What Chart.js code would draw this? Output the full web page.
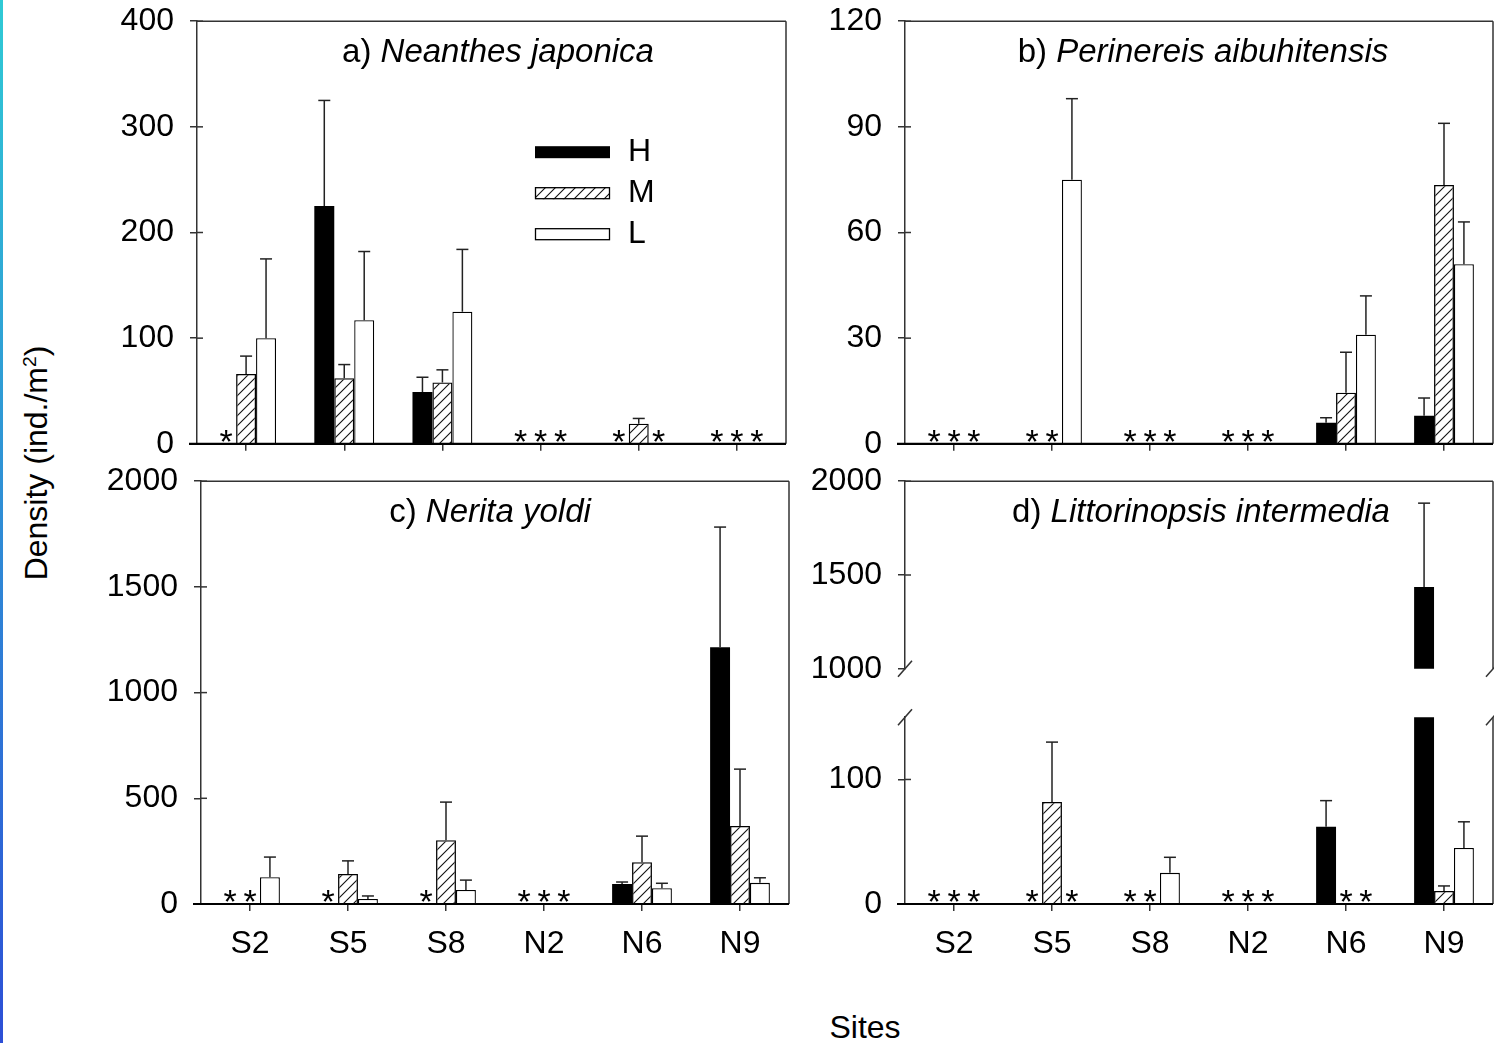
<!DOCTYPE html>
<html>
<head>
<meta charset="utf-8">
<title>Density by site</title>
<script src="https://cdn.jsdelivr.net/npm/chart.js@4.4.1/dist/chart.umd.min.js"></script>
<style>
  body { margin: 0; background: #fff; font-family: "Liberation Sans", Arial, sans-serif; }
  #page { position: relative; width: 1494px; height: 1043px; overflow: hidden; background: #fff; }
  canvas { position: absolute; }
  .txt { position: absolute; white-space: nowrap; line-height: 1; color: #000; transform: translate(-50%, -50%); }
  .ttl { font-size: 33px; }
  .sup { font-size: 0.6em; position: relative; top: -0.55em; }
  #strip { position: absolute; left: 0; top: 0; width: 3px; height: 1043px; background: linear-gradient(#2fcad5, #2d4fd6); }
</style>
</head>
<body>
<div id="page">
  <div id="strip"></div>
  <canvas id="pa"></canvas>
  <canvas id="pb"></canvas>
  <canvas id="pc"></canvas>
  <canvas id="pdTop"></canvas>
  <canvas id="pdLow"></canvas>
  <div class="txt ttl" style="left:498px;top:50px">a) <i>Neanthes japonica</i></div>
  <div class="txt ttl" style="left:1203px;top:50px">b) <i>Perinereis aibuhitensis</i></div>
  <div class="txt ttl" style="left:490px;top:510px">c) <i>Nerita yoldi</i></div>
  <div class="txt ttl" style="left:1201px;top:510px">d) <i>Littorinopsis intermedia</i></div>
  <div class="txt" style="left:36px;top:463px;font-size:32px;transform:translate(-50%,-50%) rotate(-90deg)">Density (ind./m<span class="sup">2</span>)</div>
  <div class="txt" style="left:865px;top:1027px;font-size:32px">Sites</div>
</div>
<script>
const sites = ['S2', 'S5', 'S8', 'N2', 'N6', 'N9'];
const groups = ['H', 'M', 'L'];

// a) Neanthes japonica
const aH = [0, 225, 49, 0, 0, 0];
const aM = [66, 62, 58, 0, 19, 0];
const aL = [100, 117, 125, 0, 0, 0];
const aHerr = [0, 100, 14, 0, 0, 0];
const aMerr = [17, 13, 12, 0, 5, 0];
const aLerr = [75, 65, 59, 0, 0, 0];
const aTicks = [0, 100, 200, 300, 400];

// b) Perinereis aibuhitensis
const bH = [0, 0, 0, 0, 6, 8];
const bM = [0, 0, 0, 0, 14.5, 73.5];
const bL = [0, 75, 0, 0, 31, 51];
const bHerr = [0, 0, 0, 0, 1.4, 5];
const bMerr = [0, 0, 0, 0, 11.5, 17.5];
const bLerr = [0, 23, 0, 0, 11, 12];
const bTicks = [0, 30, 60, 90, 120];

// c) Nerita yoldi
const cH = [0, 0, 0, 0, 95, 1215];
const cM = [0, 142, 302, 0, 198, 369];
const cL = [127, 24, 66, 0, 75, 100];
const cHerr = [0, 0, 0, 0, 9, 568];
const cMerr = [0, 62, 180, 0, 123, 269];
const cLerr = [95, 14, 47, 0, 23, 24];
const cTicks = [0, 500, 1000, 1500, 2000];

// d) Littorinopsis intermedia (broken axis)
const dH = [0, 0, 0, 0, 62, 1436];
const dM = [0, 82, 0, 0, 0, 10.5];
const dL = [0, 0, 25, 0, 0, 45];
const dHerr = [0, 0, 0, 0, 21, 447];
const dMerr = [0, 48, 0, 0, 0, 4];
const dLerr = [0, 0, 12.5, 0, 0, 21];
const dUpperTicks = [1000, 1500, 2000];
const dLowerTicks = [0, 100];

const family = '"Liberation Sans", Arial, sans-serif';

// hatch for the M bars
const tile = document.createElement('canvas');
tile.width = 10; tile.height = 10;
const tg = tile.getContext('2d');
tg.strokeStyle = '#111';
tg.lineWidth = 1.1;
tg.beginPath();
tg.moveTo(0, 10); tg.lineTo(10, 0);
tg.moveTo(-1, 1); tg.lineTo(1, -1);
tg.moveTo(9, 11); tg.lineTo(11, 9);
tg.stroke();
const hatch = tg.createPattern(tile, 'repeat');
const fills = ['#000', hatch, '#fff'];

function line(ctx, x1, y1, x2, y2) {
  ctx.beginPath(); ctx.moveTo(x1, y1); ctx.lineTo(x2, y2); ctx.stroke();
}

const marks = {
  id: 'marks',
  afterDatasetsDraw(chart, args, o) {
    const ctx = chart.ctx, ys = chart.scales.y, a = chart.chartArea;
    ctx.save();
    chart.data.datasets.forEach((ds, i) => {
      chart.getDatasetMeta(i).data.forEach((bar, j) => {
        const v = ds.means[j], e = ds.errs[j];
        if (v === 0 && o.stars) {
          ctx.font = '34px ' + family;
          ctx.textAlign = 'center';
          ctx.textBaseline = 'alphabetic';
          ctx.fillStyle = '#000';
          const m = ctx.measureText('*');
          const cy = a.bottom - 8;
          ctx.fillText('*', bar.x, cy + (m.actualBoundingBoxAscent - m.actualBoundingBoxDescent) / 2);
        }
        if (v > 0 && e > 0 && v >= ys.min && v <= ys.max) {
          const y0 = ys.getPixelForValue(v);
          const y1 = Math.max(ys.getPixelForValue(v + e), a.top);
          ctx.strokeStyle = '#222';
          ctx.lineWidth = 1.5;
          line(ctx, bar.x, y0, bar.x, y1);
          line(ctx, bar.x - 6, y1, bar.x + 6, y1);
        }
      });
    });
    ctx.restore();
  },
  afterDraw(chart, args, o) {
    const ctx = chart.ctx, ys = chart.scales.y, a = chart.chartArea;
    const L = a.left, R = a.right, T = a.top, B = a.bottom;
    ctx.save();
    ctx.strokeStyle = '#333';
    ctx.lineWidth = 1.5;
    line(ctx, R, T, R, B);
    if (o.frameTop) line(ctx, L, T, R, T);
    ys.ticks.forEach(t => {
      const y = ys.getPixelForValue(t.value);
      if (o.breakBottom && Math.abs(y - B) < 1) return;
      line(ctx, L, y, L + 6, y);
    });
    if (o.breakBottom) [L, R].forEach(x => line(ctx, x - 7, B + 8, x + 7, B - 8));
    if (o.breakTop) [L, R].forEach(x => line(ctx, x - 7, T + 8, x + 7, T - 8));
    if (o.xLine) {
      ctx.strokeStyle = '#000';
      ctx.lineWidth = 2.2;
      line(ctx, L - 8, B, R, B);
    }
    if (o.legend) {
      const lx = L + 338, ly = T + 125;
      chart.data.datasets.forEach((ds, k) => {
        const y = ly + k * 41;
        ctx.fillStyle = ds.backgroundColor;
        ctx.fillRect(lx, y, 75, 12);
        if (k) {
          ctx.strokeStyle = '#000';
          ctx.lineWidth = 1.3;
          ctx.strokeRect(lx + 0.5, y + 0.5, 74, 11);
        }
        ctx.fillStyle = '#000';
        ctx.font = '32px ' + family;
        ctx.textAlign = 'left';
        ctx.textBaseline = 'middle';
        ctx.fillText(ds.label, lx + 93, y + 6);
      });
    }
    ctx.restore();
  }
};

function panelConfig(cfg, xH, padT, padR, padB, yW) {
  return {
    type: 'bar',
    data: {
      labels: sites,
      datasets: groups.map((g, k) => ({
        label: g,
        data: cfg.means[k].map(v => (v > 0 && v >= cfg.min ? v : null)),
        means: cfg.means[k],
        errs: cfg.errs[k],
        backgroundColor: fills[k],
        borderColor: '#000',
        borderWidth: k === 0 ? 0 : 1.3,
        categoryPercentage: 0.61,
        barPercentage: 1,
        clip: 0
      }))
    },
    options: {
      responsive: false,
      maintainAspectRatio: false,
      animation: false,
      events: [],
      layout: { padding: { top: padT, right: padR, bottom: padB, left: 0 } },
      plugins: {
        legend: { display: false },
        tooltip: { enabled: false },
        marks: {
          stars: cfg.stars !== false,
          frameTop: !!cfg.frameTop,
          breakTop: !!cfg.breakTop,
          breakBottom: !!cfg.breakBottom,
          xLine: !cfg.noX,
          legend: !!cfg.legend
        }
      },
      scales: {
        x: {
          display: !cfg.noX,
          grid: { drawOnChartArea: false, offset: false, tickLength: 7, color: '#333', lineWidth: 1.5 },
          border: { display: false },
          ticks: {
            display: !!cfg.xLabels,
            font: { size: 32, family },
            color: '#000',
            padding: 14,
            maxRotation: 0,
            autoSkip: false
          },
          afterFit: s => { s.height = xH; }
        },
        y: {
          min: cfg.min,
          max: cfg.max,
          afterBuildTicks: s => { s.ticks = cfg.ticks.map(v => ({ value: v })); },
          grid: { drawOnChartArea: false, tickLength: 7, color: '#333', lineWidth: 1.5 },
          border: { color: '#333', width: 1.5 },
          ticks: {
            font: { size: 32, family },
            color: '#000',
            padding: 16,
            callback: v => String(v)
          },
          afterFit: s => { s.width = yW; }
        }
      }
    },
    plugins: [marks]
  };
}

function panel(id, box, cfg) {
  const cv = document.getElementById(id);
  const padT = 20, yW = 120, padR = 2;
  const xH = cfg.noX ? 0 : (cfg.xLabels ? 60 : 22);
  const padB = cfg.noX ? 20 : 0;
  const w = box.R - box.L + yW + padR;
  // first pass: see how much room Chart.js keeps above and below the plot area
  cv.width = w;
  cv.height = box.B - box.T + padT + xH + padB;
  let chart = new Chart(cv, panelConfig(cfg, xH, padT, padR, padB, yW));
  const above = chart.chartArea.top;
  const below = cv.height - chart.chartArea.bottom;
  chart.destroy();
  // second pass: size the canvas so the plot area is exactly the wanted box
  cv.width = w;
  cv.height = box.B - box.T + above + below;
  chart = new Chart(cv, panelConfig(cfg, xH, padT, padR, padB, yW));
  const a = chart.chartArea;
  cv.style.left = (box.L - a.left) + 'px';
  cv.style.top = (box.T - a.top) + 'px';
  return chart;
}

panel('pa', { L: 197, T: 21, R: 786, B: 444 }, {
  means: [aH, aM, aL], errs: [aHerr, aMerr, aLerr],
  min: 0, max: 400, ticks: aTicks, frameTop: true, legend: true
});
panel('pb', { L: 905, T: 21, R: 1493, B: 444 }, {
  means: [bH, bM, bL], errs: [bHerr, bMerr, bLerr],
  min: 0, max: 120, ticks: bTicks, frameTop: true
});
panel('pc', { L: 201, T: 481, R: 789, B: 904 }, {
  means: [cH, cM, cL], errs: [cHerr, cMerr, cLerr],
  min: 0, max: 2000, ticks: cTicks, frameTop: true, xLabels: true
});
panel('pdTop', { L: 905, T: 481, R: 1493, B: 669 }, {
  means: [dH, dM, dL], errs: [dHerr, dMerr, dLerr],
  min: 1000, max: 2000, ticks: dUpperTicks, frameTop: true, noX: true,
  stars: false, breakBottom: true
});
panel('pdLow', { L: 905, T: 717, R: 1493, B: 904 }, {
  means: [dH, dM, dL], errs: [dHerr, dMerr, dLerr],
  min: 0, max: 150, ticks: dLowerTicks, xLabels: true, breakTop: true
});
</script>
</body>
</html>
